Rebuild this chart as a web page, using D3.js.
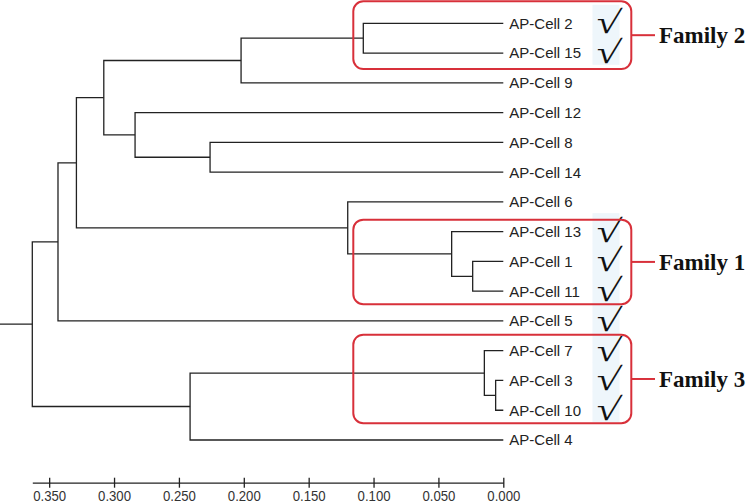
<!DOCTYPE html>
<html>
<head>
<meta charset="utf-8">
<script src="https://cdn.jsdelivr.net/npm/d3@7"></script>
<style>
  body { margin: 0; background: #fff; }
  svg { display: block; }
</style>
</head>
<body>
<svg id="chart" width="750" height="503"></svg>
<script>
// leaf order top to bottom
var leaves = ["AP-Cell 2", "AP-Cell 15", "AP-Cell 9", "AP-Cell 12", "AP-Cell 8", "AP-Cell 14",
    "AP-Cell 6", "AP-Cell 13", "AP-Cell 1", "AP-Cell 11", "AP-Cell 5", "AP-Cell 7",
    "AP-Cell 3", "AP-Cell 10", "AP-Cell 4"];

// linkage: [left, right, height]; "#n" points to merge n
var merges = [
    ["AP-Cell 3", "AP-Cell 10", 0.0059],
    ["AP-Cell 7", "#0", 0.0146],
    ["AP-Cell 1", "AP-Cell 11", 0.0236],
    ["AP-Cell 13", "#2", 0.0398],
    ["AP-Cell 2", "AP-Cell 15", 0.1079],
    ["AP-Cell 6", "#3", 0.1199],
    ["#4", "AP-Cell 9", 0.2021],
    ["AP-Cell 8", "AP-Cell 14", 0.2260],
    ["#1", "AP-Cell 4", 0.2414],
    ["AP-Cell 12", "#7", 0.2838],
    ["#6", "#9", 0.3079],
    ["#10", "#5", 0.3290],
    ["#11", "AP-Cell 5", 0.3432],
    ["#12", "#8", 0.3630]
];

var checked = ["AP-Cell 2", "AP-Cell 15", "AP-Cell 13", "AP-Cell 1", "AP-Cell 11",
    "AP-Cell 5", "AP-Cell 7", "AP-Cell 3", "AP-Cell 10"];

var familyNames = ["Family 2", "Family 1", "Family 3"];
var familyFirst = ["AP-Cell 2", "AP-Cell 13", "AP-Cell 7"];
var familyLast = ["AP-Cell 15", "AP-Cell 11", "AP-Cell 10"];

var axisTicks = [0.35, 0.30, 0.25, 0.20, 0.15, 0.10, 0.05, 0.00];

// box padding (top, bottom) per family, layout only
var boxPad = { "Family 2": [22, 16], "Family 1": [12, 13], "Family 3": [16, 13] };

var svg = d3.select("#chart");

// build the tree
var nodes = merges.map(function(m) { return { height: m[2], children: [] }; });
function ref(k) { return k.charAt(0) === "#" ? nodes[+k.slice(1)] : { name: k, height: 0 }; }
merges.forEach(function(m, i) { nodes[i].children = [ref(m[0]), ref(m[1])]; });
var root = d3.hierarchy(nodes[nodes.length - 1]);

// one distance scale for the tree and the axis
var x = d3.scaleLinear().domain([0.363, 0]).range([32.3, 503.3]);
var rowY = d3.scalePoint().domain(leaves).range([23.3, 440]);
var step = rowY.step();

root.eachAfter(function(d) {
    d.x = x(d.data.height);
    d.y = d.children ? d3.mean(d.children, function(c) { return c.y; }) : rowY(d.data.name);
});

// light blue cells behind the ticks
svg.append("g").selectAll("rect")
    .data(checked)
    .enter()
    .append("rect")
    .attr("x", 592.5)
    .attr("y", function(d) { return rowY(d) - 18.5; })
    .attr("width", 27)
    .attr("height", step + 0.5)
    .attr("fill", "#eef6fb");

// branches
var g = svg.append("g")
    .attr("fill", "none")
    .attr("stroke", "#222")
    .attr("stroke-width", 1.3);

g.selectAll("path.v")
    .data(root.descendants().filter(function(d) { return d.children; }))
    .enter()
    .append("path")
    .attr("class", "v")
    .attr("d", function(d) {
        var a = d.children[0], b = d.children[1];
        return "M" + a.x + "," + a.y + "H" + d.x + "V" + b.y + "H" + b.x;
    });

g.append("path")
    .attr("d", "M0," + root.y + "H" + root.x);

// leaf labels
svg.append("g").selectAll("text")
    .data(root.leaves())
    .enter()
    .append("text")
    .attr("x", function(d) { return d.x + 6; })
    .attr("y", function(d) { return d.y; })
    .attr("dy", "0.36em")
    .attr("font-family", "Liberation Sans, Arial, sans-serif")
    .attr("font-size", 15)
    .attr("fill", "#222")
    .text(function(d) { return d.data.name; });

// check marks
svg.append("g").selectAll("text")
    .data(checked)
    .enter()
    .append("text")
    .attr("transform", function(d) { return "translate(606," + (rowY(d) + 10) + ") scale(1.35,1) skewX(-8)"; })
    .attr("text-anchor", "middle")
    .attr("font-family", "Liberation Serif, Times New Roman, serif")
    .attr("font-size", 32)
    .attr("fill", "#111")
    .text("\u221A");

// family boxes
var red = "#d8303a";
var fam = svg.append("g");
familyNames.forEach(function(name, i) {
    var top = rowY(familyFirst[i]) - boxPad[name][0];
    var bottom = rowY(familyLast[i]) + boxPad[name][1];
    var mid = (top + bottom) / 2;
    fam.append("rect")
        .attr("x", 353.3)
        .attr("y", top)
        .attr("width", 278)
        .attr("height", bottom - top)
        .attr("rx", 10)
        .attr("fill", "none")
        .attr("stroke", red)
        .attr("stroke-width", 2);
    fam.append("line")
        .attr("x1", 631.3).attr("x2", 655)
        .attr("y1", mid).attr("y2", mid)
        .attr("stroke", red)
        .attr("stroke-width", 2);
    fam.append("text")
        .attr("x", 659)
        .attr("y", mid + 8)
        .attr("font-family", "Liberation Serif, Times New Roman, serif")
        .attr("font-weight", "bold")
        .attr("font-size", 23)
        .attr("fill", "#111")
        .text(name);
});

// scale axis
var axis = svg.append("g")
    .attr("transform", "translate(0,482.7)")
    .call(d3.axisBottom(x)
        .tickValues(axisTicks)
        .tickFormat(d3.format(".3f"))
        .tickSize(5)
        .tickSizeOuter(0));
axis.select(".domain").attr("stroke", "#222").attr("stroke-width", 1.3);
axis.selectAll(".tick line").attr("y1", -5).attr("stroke", "#222").attr("stroke-width", 1.3);
axis.selectAll(".tick text")
    .attr("y", 18)
    .attr("dy", null)
    .attr("font-family", "Liberation Sans, Arial, sans-serif")
    .attr("font-size", 15.5)
    .attr("fill", "#333")
    .attr("textLength", 33)
    .attr("lengthAdjust", "spacingAndGlyphs");
</script>
</body>
</html>
